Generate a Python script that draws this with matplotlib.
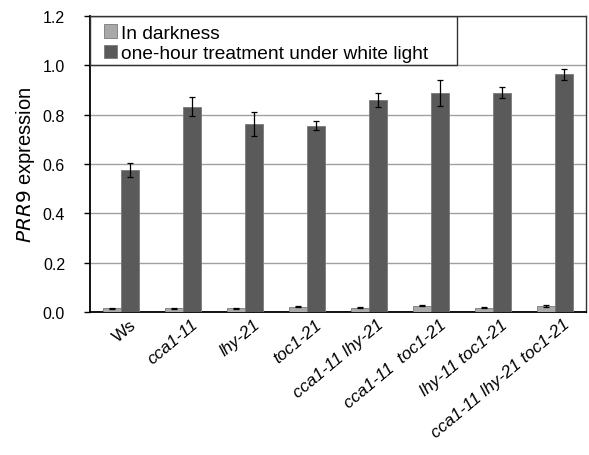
import matplotlib
matplotlib.use("Agg")
import matplotlib.pyplot as plt
import matplotlib.transforms as mtransforms
from matplotlib.patches import Rectangle
import numpy as np

plt.rcParams['font.family'] = ['Liberation Sans', 'DejaVu Sans']

genotypes = ['Ws', 'cca1-11', 'lhy-21', 'toc1-21', 'cca1-11 lhy-21',
             'cca1-11  toc1-21', 'lhy-11 toc1-21', 'cca1-11 lhy-21 toc1-21']
italic_label = [False, True, True, True, True, True, True, True]

dark_vals = [0.015, 0.015, 0.015, 0.022, 0.017, 0.025, 0.017, 0.025]
dark_err = [0.002, 0.002, 0.002, 0.002, 0.002, 0.002, 0.002, 0.003]
light_vals = [0.577, 0.832, 0.763, 0.755, 0.859, 0.888, 0.889, 0.963]
light_err = [0.029, 0.039, 0.049, 0.018, 0.028, 0.054, 0.022, 0.021]

series_names = ['In darkness', 'one-hour treatment under white light']

fig = plt.figure(figsize=(5.89, 4.56), dpi=100)
ax = fig.add_axes([90 / 589, 1 - 313 / 456, 496 / 589, 296 / 456])

x = np.arange(len(genotypes))
w = 0.29
ebar = dict(ecolor='black', capsize=2, elinewidth=0.9, capthick=0.9)
b1 = ax.bar(x - w / 2, dark_vals, w, yerr=dark_err, color='#a9a9a9',
            edgecolor='#7a7a7a', linewidth=0.6, error_kw=ebar, zorder=3,
            label=series_names[0])
b2 = ax.bar(x + w / 2, light_vals, w, yerr=light_err, color='#5a5a5a',
            edgecolor='#7a7a7a', linewidth=0.6, error_kw=ebar, zorder=3,
            label=series_names[1])

ax.set_xlim(-0.5, len(genotypes) - 0.5)
ax.set_ylim(0, 1.2)
ax.set_yticks(np.arange(0, 1.21, 0.2))
ax.set_yticklabels([f'{v:.1f}' for v in np.arange(0, 1.21, 0.2)], fontsize=11.5)
ax.yaxis.grid(True, color='#a0a0a0', linewidth=1.0, zorder=0)
ax.set_axisbelow(True)
ax.tick_params(axis='y', length=4, width=1, pad=14)
ax.tick_params(axis='x', length=0, pad=3)

ax.set_xticks(x)
ax.set_xticklabels(genotypes, rotation=40, ha='right', rotation_mode='anchor',
                   fontsize=12.5)
shift = mtransforms.ScaledTranslation(0.08, 0, fig.dpi_scale_trans)
for lab, it in zip(ax.get_xticklabels(), italic_label):
    lab.set_transform(lab.get_transform() + shift)
    if it:
        lab.set_style('italic')

for side in ['left', 'bottom']:
    ax.spines[side].set_color('black')
    ax.spines[side].set_linewidth(1.3)
for side in ['right', 'top']:
    ax.spines[side].set_color('#333333')
    ax.spines[side].set_linewidth(1.0)

ax.set_ylabel(r'$\it{PRR9}$ expression', fontsize=14.5, labelpad=4)

# boxed legend area sitting above the 1.0 grid line
trans = mtransforms.blended_transform_factory(ax.transAxes, ax.transData)
ax.add_patch(Rectangle((0, 1.0), 0.74, 0.2, transform=trans, fill=False,
                       edgecolor='#333333', linewidth=1.0, zorder=4))
ax.legend(handles=[b1, b2], loc='upper left', bbox_to_anchor=(0.02, 0.985),
          frameon=False, fontsize=13.8, handlelength=0.7, handleheight=0.7,
          handletextpad=0.2, labelspacing=0.15, borderaxespad=0.0,
          borderpad=0.2)

fig.savefig('out.png', dpi=100)
